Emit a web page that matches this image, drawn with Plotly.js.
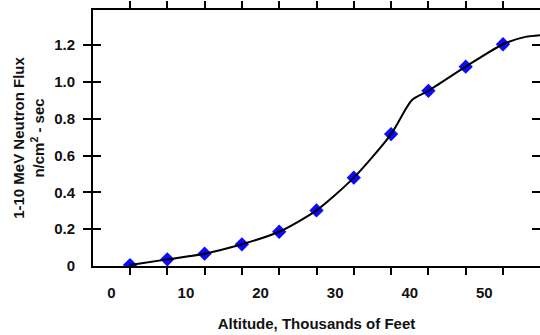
<!DOCTYPE html>
<html>
<head>
<meta charset="utf-8">
<script src="https://cdn.plot.ly/plotly-3.0.1.min.js"></script>
<style>html,body{margin:0;padding:0;background:#fff;}#chart{width:540px;height:335px;}</style>
</head>
<body>
<div id="chart"></div>
<script>
// Measured points (altitude in thousands of feet, flux n/cm^2-sec)
var pointAltitude = [2.5, 7.5, 12.5, 17.5, 22.5, 27.5, 32.5, 37.5, 42.5, 47.5, 52.5];
var pointFlux     = [0.005, 0.036, 0.067, 0.118, 0.186, 0.302, 0.48, 0.717, 0.952, 1.083, 1.205];

// Fitted curve
var curveAltitude = [2.5, 7.5, 12.5, 17.5, 22.5, 27.5, 32.5, 37.5, 40.3, 42.5, 47.5, 52.5, 55.5, 58];
var curveFlux     = [0.005, 0.036, 0.067, 0.118, 0.186, 0.302, 0.48, 0.717, 0.902, 0.952, 1.083, 1.205, 1.245, 1.256];

var xTickVals = [0, 10, 20, 30, 40, 50];
var xTickText = ['0', '10', '20', '30', '40', '50'];
var yTickVals = [0, 0.2, 0.4, 0.6, 0.8, 1.0, 1.2];
var yTickText = ['0', '0.2', '0.4', '0.6', '0.8', '1.0', '1.2'];

var fam = 'Liberation Sans, Arial, sans-serif';
var xRange = [-2.46, 57.46];

var traces = [
  {
    x: pointAltitude, y: pointFlux, type: 'scatter', mode: 'markers',
    xaxis: 'x', yaxis: 'y',
    marker: {symbol: 'diamond', size: 11, color: '#0a0aff', line: {width: 0}},
    hoverinfo: 'none'
  },
  {
    x: curveAltitude, y: curveFlux, type: 'scatter', mode: 'lines',
    xaxis: 'x2', yaxis: 'y',
    line: {color: '#000', width: 2, shape: 'spline', smoothing: 0.7},
    hoverinfo: 'none'
  }
];

var layout = {
  width: 540, height: 335,
  margin: {l: 93, r: 0, t: 10, b: 69},
  paper_bgcolor: '#fff', plot_bgcolor: 'rgba(0,0,0,0)',
  showlegend: false,
  font: {family: fam, size: 14, color: '#111'},
  // axis carrying the labels, title and frame
  xaxis: {
    range: xRange, showgrid: false, zeroline: false,
    showline: true, linecolor: '#000', linewidth: 2, mirror: true,
    tickmode: 'array', tickvals: xTickVals, ticktext: xTickText, ticks: '',
    ticklabelstandoff: 12,
    tickfont: {family: fam, size: 15, color: '#111', weight: 'bold'},
    title: {text: 'Altitude, Thousands of Feet', standoff: 18,
            font: {family: fam, size: 15, color: '#111', weight: 'bold'}}
  },
  // overlaid axis carrying the tick marks (bottom and top)
  xaxis2: {
    overlaying: 'x', side: 'bottom', anchor: 'y',
    range: xRange, showgrid: false, zeroline: false,
    showline: true, linecolor: '#000', linewidth: 2, mirror: 'allticks',
    tickmode: 'linear', tick0: 2.5, dtick: 5, showticklabels: false,
    ticks: 'outside', ticklen: 7, tickwidth: 2, tickcolor: '#000'
  },
  yaxis: {
    range: [0, 1.391], showgrid: false, zeroline: false,
    showline: true, linecolor: '#000', linewidth: 2, mirror: 'allticks',
    tickmode: 'array', tickvals: yTickVals, ticktext: yTickText,
    ticks: 'inside', ticklen: 8, tickwidth: 2, tickcolor: '#000',
    ticklabelstandoff: 13,
    tickfont: {family: fam, size: 15, color: '#111', weight: 'bold'},
    title: {text: '1-10 MeV Neutron Flux<br>n/cm<sup>2</sup> - sec', standoff: 6,
            font: {family: fam, size: 15, color: '#111', weight: 'bold'}}
  }
};

Plotly.newPlot('chart', traces, layout, {staticPlot: true, displayModeBar: false});
</script>
</body>
</html>
